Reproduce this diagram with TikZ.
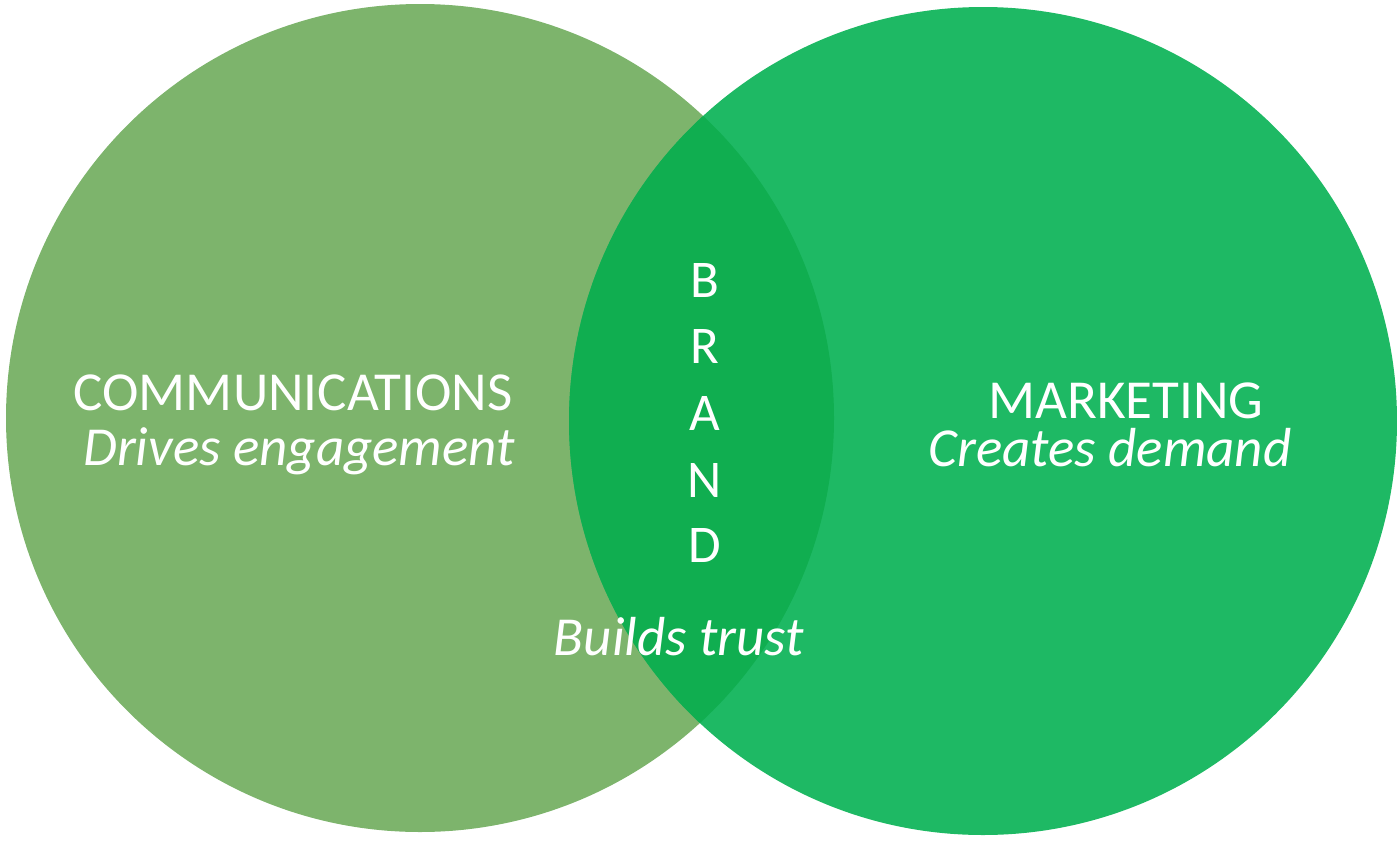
\documentclass[tikz,border=0pt]{standalone}
\usepackage{fontspec}
\setmainfont{Carlito}
\begin{document}
\definecolor{commgreen}{HTML}{7DB46C}
\definecolor{mktgreen}{HTML}{1EB964}
\definecolor{brandgreen}{HTML}{10AE50}
\begin{tikzpicture}[x=1pt,y=-1pt,
  label/.style={text=white,font=\fontsize{55}{58}\selectfont,anchor=base,inner sep=0pt},
  sublabel/.style={label,font=\fontsize{55}{58}\selectfont\itshape},
  letter/.style={label,font=\fontsize{53}{58}\selectfont}]
  \useasboundingbox (0,0) rectangle (1397,841);
  % the two sets
  \fill[commgreen] (420,418) circle (414);
  \fill[mktgreen] (983,421) circle (414);
  % their overlap
  \begin{scope}
    \clip (420,418) circle (414);
    \fill[brandgreen] (983,421) circle (414);
  \end{scope}
  % left set
  \node[label] (comm) at (293,410) {COMMUNICATIONS};
  \node[sublabel] (commsub) at (299,465) {Drives engagement};
  % right set
  \node[label] (mkt) at (1126,418) {MARKETING};
  \node[sublabel] (mktsub) at (1110,466) {Creates demand};
  % overlap, spelled downwards
  \node[letter] (b1) at (705,297) {B};
  \node[letter] (b2) at (705,363) {R};
  \node[letter] (b3) at (705,430) {A};
  \node[letter] (b4) at (705,497) {N};
  \node[letter] (b5) at (705,562) {D};
  \node[sublabel] (brandsub) at (679,655) {Builds trust};
\end{tikzpicture}
\end{document}
